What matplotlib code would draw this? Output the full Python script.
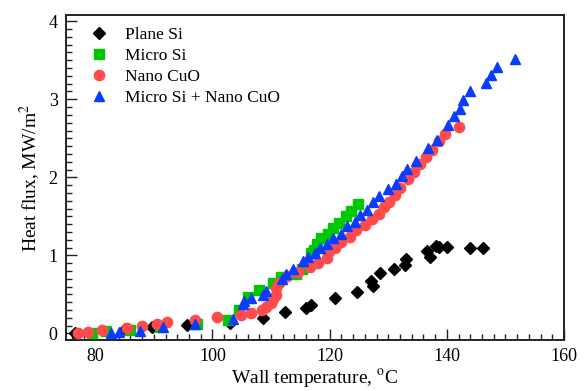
import matplotlib

matplotlib.use("Agg")
import matplotlib.pyplot as plt
from matplotlib.ticker import MultipleLocator

plt.rcParams["font.family"] = ["Liberation Serif", "DejaVu Serif"]
plt.rcParams["mathtext.fontset"] = "stix"

# Plane Si
plane_t = [76.5, 85.0, 89.6, 95.6, 103.0, 108.6, 112.4, 116.0, 116.9, 121.0, 124.7,
           127.0, 127.4, 128.6, 131.0, 132.9, 133.1, 136.7, 137.2, 138.2, 138.7,
           140.1, 144.0, 146.2]
plane_q = [0.01, 0.05, 0.08, 0.11, 0.13, 0.20, 0.27, 0.33, 0.37, 0.45, 0.53,
           0.67, 0.61, 0.78, 0.83, 0.88, 0.95, 1.06, 0.98, 1.12, 1.11,
           1.11, 1.10, 1.10]

# Micro Si
micro_t = [79.5, 81.9, 85.9, 91.0, 97.3, 102.6, 104.6, 106.1, 108.0, 110.3, 111.7,
           114.2, 115.2, 116.9, 117.4, 117.8, 118.6, 119.8, 120.6, 121.6, 122.8,
           123.6, 124.9]
micro_q = [0.00, 0.03, 0.04, 0.08, 0.12, 0.17, 0.30, 0.47, 0.555, 0.65, 0.72,
           0.76, 0.83, 1.03, 1.07, 1.15, 1.22, 1.28, 1.35, 1.42, 1.50,
           1.57, 1.66]

# Nano CuO
nano_t = [77.0, 78.7, 81.1, 85.4, 87.9, 90.5, 92.2, 97.0, 100.7, 104.8, 106.5,
          108.4, 109.2, 110.0, 110.4, 110.8, 110.9, 111.4, 112.8, 114.6, 116.6,
          118.1, 119.5, 119.8, 121.0, 121.9, 123.5, 124.5, 126.0, 127.2, 128.4,
          129.3, 130.2, 131.1, 132.0, 133.4, 134.4, 135.4, 136.4, 137.4, 138.6,
          139.7, 142.1]
nano_q = [0.00, 0.02, 0.04, 0.07, 0.10, 0.12, 0.15, 0.17, 0.205, 0.235, 0.265,
          0.30, 0.34, 0.39, 0.44, 0.49, 0.58, 0.64, 0.73, 0.79, 0.85,
          0.90, 0.96, 1.03, 1.10, 1.17, 1.24, 1.32, 1.39, 1.47, 1.53,
          1.62, 1.68, 1.77, 1.86, 1.98, 2.07, 2.17, 2.26, 2.35, 2.46,
          2.55, 2.64]

# Micro Si + Nano CuO
combo_t = [82.7, 84.0, 87.7, 91.6, 97.0, 103.5, 105.2, 105.3, 106.5, 108.6, 109.2,
           111.8, 112.6, 113.8, 115.4, 116.3, 117.5, 118.3, 119.5, 120.5, 121.9,
           122.9, 124.3, 125.2, 126.4, 127.4, 128.4, 130.0, 131.4, 132.3, 133.2,
           134.8, 136.8, 138.4, 140.2, 141.2, 142.3, 142.7, 143.9, 146.7, 147.6,
           148.5, 151.6]
combo_q = [0.01, 0.02, 0.03, 0.08, 0.12, 0.18, 0.38, 0.42, 0.45, 0.49, 0.54,
           0.70, 0.76, 0.82, 0.93, 0.98, 1.03, 1.09, 1.15, 1.22, 1.28,
           1.37, 1.43, 1.52, 1.58, 1.68, 1.76, 1.85, 1.92, 2.02, 2.11,
           2.21, 2.38, 2.48, 2.67, 2.78, 2.88, 2.99, 3.10, 3.21, 3.31,
           3.42, 3.51]


def main() -> None:
    fig = plt.figure(figsize=(5.87, 3.91), dpi=100)
    ax = fig.add_axes([0.1124, 0.1304, 0.8484, 0.8312])

    ax.plot(plane_t, plane_q, linestyle="none", marker="D", markersize=5.8,
            color="black", label="Plane Si", zorder=2)
    ax.plot(micro_t, micro_q, linestyle="none", marker="s", markersize=7.2,
            color="#00c800", label="Micro Si", zorder=3)
    ax.plot(nano_t, nano_q, linestyle="none", marker="o", markersize=7.4,
            color="#ff4b4b", label="Nano CuO", zorder=4)
    ax.plot(combo_t, combo_q, linestyle="none", marker="^", markersize=7.4,
            color="#0a3cff", label="Micro Si + Nano CuO", zorder=5)

    ax.set_xlim(75, 160)
    ax.set_ylim(-0.085, 4.08)
    ax.xaxis.set_major_locator(MultipleLocator(20))
    ax.xaxis.set_minor_locator(MultipleLocator(2))
    ax.yaxis.set_major_locator(MultipleLocator(1))
    ax.yaxis.set_minor_locator(MultipleLocator(0.1))
    ax.tick_params(which="both", direction="in", top=False, right=False,
                   labelsize=13, width=1.0, color="#222222")
    ax.tick_params(which="major", length=8, pad=6)
    ax.tick_params(which="minor", length=4)
    for spine in ax.spines.values():
        spine.set_linewidth(1.4)
        spine.set_color("#222222")

    ax.set_xlabel(r"Wall temperature, $^{\rm o}$C", fontsize=14, labelpad=1)
    ax.set_ylabel(r"Heat flux, MW/m$^2$", fontsize=14, labelpad=5)

    ax.legend(loc="upper left", frameon=False, fontsize=12.5, handletextpad=0.9,
              borderaxespad=0.3, labelspacing=0.28, bbox_to_anchor=(0.021, 1.0),
              handlelength=1.2)

    fig.savefig("out.png", dpi=100)
    plt.close(fig)


if __name__ == "__main__":
    main()
